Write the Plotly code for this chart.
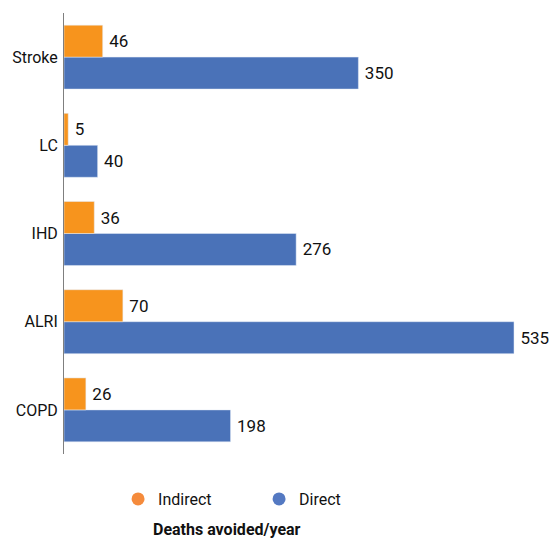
import plotly.graph_objects as go

categories = ["COPD", "ALRI", "IHD", "LC", "Stroke"]
indirect = [26, 70, 36, 5, 46]
direct = [198, 535, 276, 40, 350]

orange = "#F7941D"
blue = "#4A72B8"
font_family = "Roboto, Arial, sans-serif"

fig = go.Figure()
fig.add_trace(go.Bar(
    y=categories, x=direct, orientation="h", name="Direct",
    marker_color=blue, showlegend=False,
    text=[f"\u2009{v}" for v in direct], textposition="outside",
    textfont=dict(size=17, color="#111111"), cliponaxis=False,
))
fig.add_trace(go.Bar(
    y=categories, x=indirect, orientation="h", name="Indirect",
    marker_color=orange, showlegend=False,
    text=[f"\u2009{v}" for v in indirect], textposition="outside",
    textfont=dict(size=17, color="#111111"), cliponaxis=False,
))
# legend entries with circle markers
fig.add_trace(go.Scatter(x=[None], y=[None], mode="markers", name="Indirect",
                         marker=dict(color="#F58B3C", size=13, symbol="circle")))
fig.add_trace(go.Scatter(x=[None], y=[None], mode="markers", name="Direct",
                         marker=dict(color="#5479C2", size=13, symbol="circle")))

fig.update_layout(
    width=551, height=538,
    margin=dict(l=64, r=0, t=13, b=84, autoexpand=False),
    paper_bgcolor="white", plot_bgcolor="white",
    barmode="group", bargap=0.275, bargroupgap=0,
    font=dict(family=font_family, size=16, color="#111111"),
    legend=dict(orientation="h", x=0.111, xanchor="left", y=-0.102, yanchor="middle",
                entrywidth=96, font=dict(size=16), itemwidth=30),
    annotations=[dict(text="<b>Deaths avoided/year</b>", xref="paper", yref="paper",
                      x=0.335, y=-0.172, xanchor="center", yanchor="middle",
                      showarrow=False, font=dict(size=16, color="#111111"))],
)
fig.update_xaxes(range=[0, 579], showgrid=False, showticklabels=False, zeroline=False,
                 showline=False, ticks="", automargin=False)
fig.update_yaxes(showline=True, linecolor="#7f7f7f", linewidth=1, ticks="",
                 showgrid=False, tickfont=dict(size=16), ticklabelstandoff=2,
                 automargin=False)

fig.write_html(
    "out.html",
    config={"displayModeBar": False},
    post_script="document.body.style.margin='0';document.body.style.overflow='hidden';",
)
